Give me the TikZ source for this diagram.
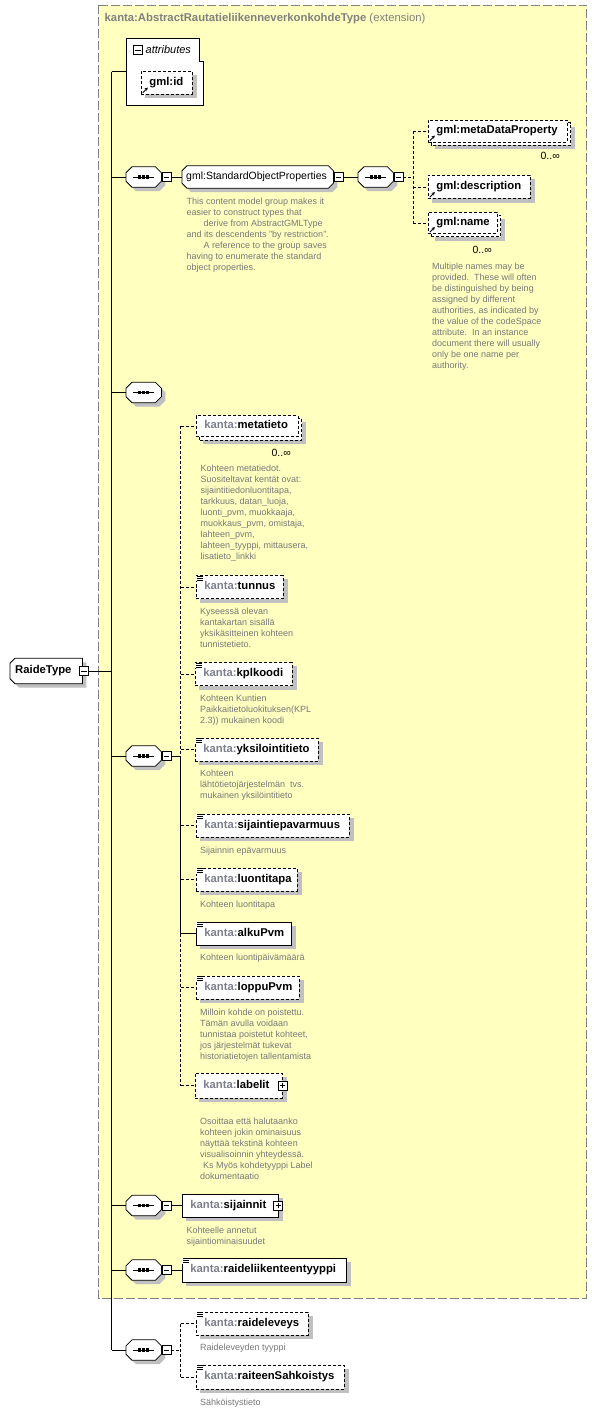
\documentclass[tikz,border=0pt]{standalone}
\usepackage{fontspec}
\setmainfont{Liberation Sans}
\usetikzlibrary{calc,arrows.meta}
\pgfdeclarelayer{bg}
\pgfsetlayers{bg,main}
\definecolor{yel}{RGB}{255,255,192}
\definecolor{bordgray}{RGB}{128,128,128}
\definecolor{shadowgray}{RGB}{192,192,192}
\definecolor{descgray}{RGB}{120,120,120}
\definecolor{kgray}{RGB}{125,128,140}
\newcommand\kn[1]{{\color{kgray}kanta:}#1}
\newcommand\shd[1]{\begin{pgfonlayer}{bg}\fill[shadowgray] ([shift={(4pt,-4pt)}]#1.south west) rectangle ([shift={(4pt,-4pt)}]#1.north east);\end{pgfonlayer}}
\newcommand\multibk[1]{\begin{pgfonlayer}{bg}\fill[shadowgray] ([shift={(7pt,-7pt)}]#1.south west) rectangle ([shift={(7pt,-7pt)}]#1.north east);
\filldraw[fill=white, line width=0.8pt, dash pattern=on 3pt off 2pt] ([shift={(3pt,-3pt)}]#1.south west) rectangle ([shift={(3pt,-3pt)}]#1.north east);\end{pgfonlayer}}
\newcommand\octa[2]{\begin{pgfonlayer}{bg}
\fill[shadowgray, transform canvas={shift={(4pt,-4pt)}}] ([xshift=#2]#1.north west) -- ([xshift=-#2]#1.north east) -- ([yshift=-#2]#1.north east) -- ([yshift=#2]#1.south east) -- ([xshift=-#2]#1.south east) -- ([xshift=#2]#1.south west) -- ([yshift=#2]#1.south west) -- ([yshift=-#2]#1.north west) -- cycle;
\filldraw[fill=white, line width=0.8pt] ([xshift=#2]#1.north west) -- ([xshift=-#2]#1.north east) -- ([yshift=-#2]#1.north east) -- ([yshift=#2]#1.south east) -- ([xshift=-#2]#1.south east) -- ([xshift=#2]#1.south west) -- ([yshift=#2]#1.south west) -- ([yshift=-#2]#1.north west) -- cycle;
\end{pgfonlayer}}
\newcommand\halfocta[2]{\begin{pgfonlayer}{bg}
\fill[shadowgray, transform canvas={shift={(4pt,-4pt)}}] ([xshift=#2]#1.north west) -- (#1.north east) -- (#1.south east) -- ([xshift=#2]#1.south west) -- ([yshift=#2]#1.south west) -- ([yshift=-#2]#1.north west) -- cycle;
\filldraw[fill=white, line width=0.8pt] ([xshift=#2]#1.north west) -- (#1.north east) -- (#1.south east) -- ([xshift=#2]#1.south west) -- ([yshift=#2]#1.south west) -- ([yshift=-#2]#1.north west) -- cycle;
\end{pgfonlayer}}
\tikzset{
 ln/.style={line width=0.8pt},
 dsh/.style={dash pattern=on 3pt off 2pt},
 elem/.style={draw, fill=white, line width=0.8pt, anchor=west, minimum height=23pt, inner xsep=8pt, inner ysep=0pt, align=left, text height=8.2pt, text depth=2.4pt, font=\fontsize{11.3}{13}\selectfont\bfseries},
 opt/.style={dash pattern=on 3pt off 2pt},
 inv/.style={draw=none, fill=none, anchor=west, inner sep=0pt},
 desc/.style={anchor=north west, inner sep=0pt, align=left, text=descgray, font=\fontsize{9}{11}\selectfont},
 card/.style={anchor=east, inner sep=0pt, font=\fontsize{10.5}{12}\selectfont},
 minusbox/.pic={\draw[fill=white, line width=0.7pt] (-4.5,-4.5) rectangle (4.5,4.5); \draw[line width=0.7pt] (-2.6,0) -- (2.6,0);},
 plusbox/.pic={\draw[fill=white, line width=0.7pt] (-4.5,-4.5) rectangle (4.5,4.5); \draw[line width=0.7pt] (-2.6,0) -- (2.6,0) (0,-2.6) -- (0,2.6);},
 simpicon/.pic={\fill[white] (0.4,0.4) rectangle (7,6); \foreach \yy in {1,3,5} {\draw[line width=0.6pt] (1,\yy) -- (6.5,\yy);}},
 refarrow/.pic={\draw[line width=0.9pt, -{Stealth[length=3.2pt,width=3.4pt]}] (1.8,-1.8) -- (6.8,-6.8);},
 seqdots/.pic={\draw[line width=0.9pt] (-10.5,0) -- (10.5,0); \foreach \dx in {-4,0,4} {\fill (\dx-1.6,-1.6) rectangle (\dx+1.6,1.6);}}
}
\begin{document}
\begin{tikzpicture}[x=1pt,y=-1pt]
\useasboundingbox (0,0) rectangle (597,1412);
\begin{pgfonlayer}{bg}
\fill[white] (0,0) rectangle (597,1412);
\filldraw[fill=yel, draw=bordgray, line width=1pt, dash pattern=on 9pt off 3pt] (98.5,5.5) rectangle (586.5,1298);
\end{pgfonlayer}
\node[anchor=west, inner sep=0pt, text=bordgray, font=\fontsize{11.3}{13}\selectfont] (title) at (104.5,18.5) {\textbf{kanta:AbstractRautatieliikenneverkonkohdeType} (extension)};

% RaideType
\node[inv, minimum width=72pt, minimum height=25pt, inner xsep=5pt, text width=62pt, text height=8.2pt, text depth=2.4pt, font=\fontsize{11.3}{13}\selectfont\bfseries] (rt) at (10,671) {RaideType};
\halfocta{rt}{5pt}
\pic at ([xshift=1.5pt]rt.east) {minusbox};
\coordinate (rtm) at ([xshift=6pt]rt.east);

% attributes
\node[inv, minimum width=77pt, minimum height=67pt, anchor=north west] (attr) at (126,38) {};
\begin{pgfonlayer}{bg}
\filldraw[fill=white, line width=0.8pt] (attr.north west) -- ([xshift=-4pt]attr.north east) -- ([xshift=-4pt,yshift=-23pt]attr.north east) -- ([yshift=-23pt]attr.north east) -- (attr.south east) -- (attr.south west) -- cycle;
\end{pgfonlayer}
\pic at (138,50) {minusbox};
\node[anchor=west, inner sep=0pt, font=\fontsize{11}{13}\selectfont\itshape] (attrl) at (145.5,50) {attributes};
\node[elem, opt, text width=35pt] (gid) at (141,82.5) {gml:id};
\shd{gid}
\pic at (gid.south west) {refarrow};

% sequence 1
\node[inv, minimum width=35pt, minimum height=20pt] (s1) at (126,177) {};
\octa{s1}{6pt}
\pic at (s1.center) {seqdots};
\pic at ([xshift=5pt]s1.east) {minusbox};
\coordinate (s1m) at ([xshift=9.5pt]s1.east);

\node[inv, minimum width=151pt, minimum height=22pt, inner xsep=4pt, text width=143pt, font=\fontsize{10.5}{12}\selectfont] (gsop) at (182,177) {gml:StandardObjectProperties};
\octa{gsop}{5pt}
\pic at ([xshift=5pt]gsop.east) {minusbox};
\coordinate (gm) at ([xshift=9.5pt]gsop.east);
\node[desc] (gsopd) at (186.5,197) {\rule{0pt}{7pt}This content model group makes it\\easier to construct types that\\\hspace*{17pt}derive from AbstractGMLType\\and its descendents "by restriction".\\\hspace*{17pt}A reference to the group saves\\having to enumerate the standard\\object properties.};

\node[inv, minimum width=35pt, minimum height=20pt] (s1b) at (358,177) {};
\octa{s1b}{6pt}
\pic at (s1b.center) {seqdots};
\pic at ([xshift=5pt]s1b.east) {minusbox};
\coordinate (s1bm) at ([xshift=9.5pt]s1b.east);

\node[elem, opt, text width=123pt, minimum height=22pt] (mdp) at (428,131) {gml:metaDataProperty};
\multibk{mdp}
\pic at (mdp.south west) {refarrow};
\node[card] (mdpc) at (560,156) {0..∞};
\node[elem, opt, text width=86pt] (gdesc) at (428,187) {gml:description};
\shd{gdesc}
\pic at (gdesc.south west) {refarrow};
\node[elem, opt, text width=53pt, minimum height=21pt] (gname) at (428,223) {gml:name};
\multibk{gname}
\pic at (gname.south west) {refarrow};
\node[card] (gnamec) at (492,250) {0..∞};
\node[desc] (gnamed) at (432,262) {\rule{0pt}{7pt}Multiple names may be\\provided.\ \ These will often\\be distinguished by being\\assigned by different\\authorities, as indicated by\\the value of the codeSpace\\attribute.\ \ In an instance\\document there will usually\\only be one name per\\authority.};

% sequence 2
\node[inv, minimum width=35pt, minimum height=20pt] (s2) at (126,392.5) {};
\octa{s2}{6pt}
\pic at (s2.center) {seqdots};

% sequence 3
\node[inv, minimum width=35pt, minimum height=20pt] (s3) at (126,756) {};
\octa{s3}{6pt}
\pic at (s3.center) {seqdots};
\pic at ([xshift=5pt]s3.east) {minusbox};
\coordinate (s3m) at ([xshift=9.5pt]s3.east);

\node[elem, opt, text width=86pt, minimum height=21pt] (meta) at (196,426) {\kn{metatieto}};
\multibk{meta}
\node[card] (metac) at (291,453) {0..∞};
\node[desc] (metad) at (200.5,464) {\rule{0pt}{7pt}Kohteen metatiedot.\\Suositeltavat kentät ovat:\\sijaintitiedonluontitapa,\\tarkkuus, datan\_luoja,\\luonti\_pvm, muokkaaja,\\muokkaus\_pvm, omistaja,\\lahteen\_pvm,\\lahteen\_tyyppi, mittausera,\\lisatieto\_linkki};

\node[elem, opt, text width=71pt] (tun) at (196,587) {\kn{tunnus}};
\shd{tun}
\pic at (tun.north west) {simpicon};
\node[desc] (tund) at (200,607) {\rule{0pt}{7pt}Kyseessä olevan\\kantakartan sisällä\\yksikäsitteinen kohteen\\tunnistetieto.};

\node[elem, opt, text width=81pt] (kpl) at (195,674) {\kn{kplkoodi}};
\shd{kpl}
\pic at (kpl.north west) {simpicon};
\node[desc] (kpld) at (200,694) {\rule{0pt}{7pt}Kohteen Kuntien\\Paikkaitietoluokituksen(KPL\\2.3)) mukainen koodi};

\node[elem, opt, text width=107pt] (yks) at (195,749.5) {\kn{yksilointitieto}};
\shd{yks}
\pic at (yks.north west) {simpicon};
\node[desc] (yksd) at (200,769) {\rule{0pt}{7pt}Kohteen\\lähtötietojärjestelmän\ \ tvs.\\mukainen yksilöintitieto};

\node[elem, opt, text width=137pt] (sijep) at (196,825.5) {\kn{sijaintiepavarmuus}};
\shd{sijep}
\pic at (sijep.north west) {simpicon};
\node[desc] (sijepd) at (200,846) {\rule{0pt}{7pt}Sijainnin epävarmuus};

\node[elem, opt, text width=85pt] (luo) at (196,879.5) {\kn{luontitapa}};
\shd{luo}
\pic at (luo.north west) {simpicon};
\node[desc] (luod) at (200,900) {\rule{0pt}{7pt}Kohteen luontitapa};

\node[elem, text width=79pt] (alku) at (196,933.5) {\kn{alkuPvm}};
\shd{alku}
\pic at (alku.north west) {simpicon};
\node[desc] (alkud) at (200,953) {\rule{0pt}{7pt}Kohteen luontipäivämäärä};

\node[elem, opt, text width=87pt] (loppu) at (196,987.5) {\kn{loppuPvm}};
\shd{loppu}
\pic at (loppu.north west) {simpicon};
\node[desc] (loppud) at (200,1008) {\rule{0pt}{7pt}Milloin kohde on poistettu.\\Tämän avulla voidaan\\tunnistaa poistetut kohteet,\\jos järjestelmät tukevat\\historiatietojen tallentamista};

\node[elem, opt, text width=71pt, minimum height=25pt] (lab) at (195,1085.5) {\kn{labelit}};
\shd{lab}
\pic at (lab.east) {plusbox};
\node[desc] (labd) at (200,1117) {\rule{0pt}{7pt}Osoittaa että halutaanko\\kohteen jokin ominaisuus\\näyttää tekstinä kohteen\\visualisoinnin yhteydessä.\\\hspace*{3pt}Ks Myös kohdetyyppi Label\\dokumentaatio};

% sequence 4
\node[inv, minimum width=35pt, minimum height=20pt] (s4) at (126,1205.5) {};
\octa{s4}{6pt}
\pic at (s4.center) {seqdots};
\pic at ([xshift=5pt]s4.east) {minusbox};
\coordinate (s4m) at ([xshift=9.5pt]s4.east);
\node[elem, text width=80pt] (sij) at (182,1205.5) {\kn{sijainnit}};
\shd{sij}
\pic at ([xshift=-0.5pt]sij.east) {plusbox};
\node[desc] (sijd) at (186.5,1226) {\rule{0pt}{7pt}Kohteelle annetut\\sijaintiominaisuudet};

% sequence 5
\node[inv, minimum width=35pt, minimum height=20pt] (s5) at (126,1270) {};
\octa{s5}{6pt}
\pic at (s5.center) {seqdots};
\pic at ([xshift=5pt]s5.east) {minusbox};
\coordinate (s5m) at ([xshift=9.5pt]s5.east);
\node[elem, text width=148pt, minimum height=24pt] (rlt) at (182,1270) {\kn{raideliikenteentyyppi}};
\shd{rlt}
\pic at (rlt.north west) {simpicon};

% sequence 6
\node[inv, minimum width=35pt, minimum height=20pt] (s6) at (126,1350) {};
\octa{s6}{6pt}
\pic at (s6.center) {seqdots};
\pic at ([xshift=5pt]s6.east) {minusbox};
\coordinate (s6m) at ([xshift=9.5pt]s6.east);
\node[elem, opt, text width=96pt] (rl) at (196,1323.5) {\kn{raideleveys}};
\shd{rl}
\pic at (rl.north west) {simpicon};
\node[desc] (rld) at (200,1343) {\rule{0pt}{7pt}Raideleveyden tyyppi};
\node[elem, opt, text width=132pt, minimum height=24pt] (rs) at (196,1377) {\kn{raiteenSahkoistys}};
\shd{rs}
\pic at (rs.north west) {simpicon};
\node[desc] (rsd) at (200,1398) {\rule{0pt}{7pt}Sähköistystieto};

% connectors
\coordinate (trunk) at (111.5,0);
\draw[ln] (attr.west -| trunk) -- (s6.west -| trunk);
\foreach \n in {attr,s1,s2,s3,s4,s5,s6} {\draw[ln] (\n.west -| trunk) -- (\n.west);}
\draw[ln] (rtm) -- (rt.east -| trunk);
\draw[ln] (s1m) -- (gsop.west);
\draw[ln] (gm) -- (s1b.west);
\coordinate (j1) at (413,0);
\draw[ln,dsh] (s1bm) -- (s1b.east -| j1);
\draw[ln,dsh] (mdp.west -| j1) -- (gname.west -| j1);
\foreach \n in {mdp,gdesc,gname} {\draw[ln,dsh] (\n.west -| j1) -- (\n.west);}
\coordinate (j3) at (180.5,0);
\draw[ln] (s3m) -- (s3.east -| j3);
\draw[ln,dsh] (meta.west -| j3) -- (s3.east -| j3);
\draw[ln] (s3.east -| j3) -- (alku.west -| j3);
\draw[ln,dsh] (alku.west -| j3) -- (lab.west -| j3);
\foreach \n in {meta,tun,kpl,yks,sijep,luo,loppu,lab} {\draw[ln,dsh] (\n.west -| j3) -- (\n.west);}
\draw[ln] (alku.west -| j3) -- (alku.west);
\draw[ln] (s4m) -- (sij.west);
\draw[ln] (s5m) -- (rlt.west);
\coordinate (j6) at (180.5,0);
\draw[ln,dsh] (s6m) -- (s6.east -| j6);
\draw[ln,dsh] (rl.west -| j6) -- (rs.west -| j6);
\foreach \n in {rl,rs} {\draw[ln,dsh] (\n.west -| j6) -- (\n.west);}
\end{tikzpicture}
\end{document}
